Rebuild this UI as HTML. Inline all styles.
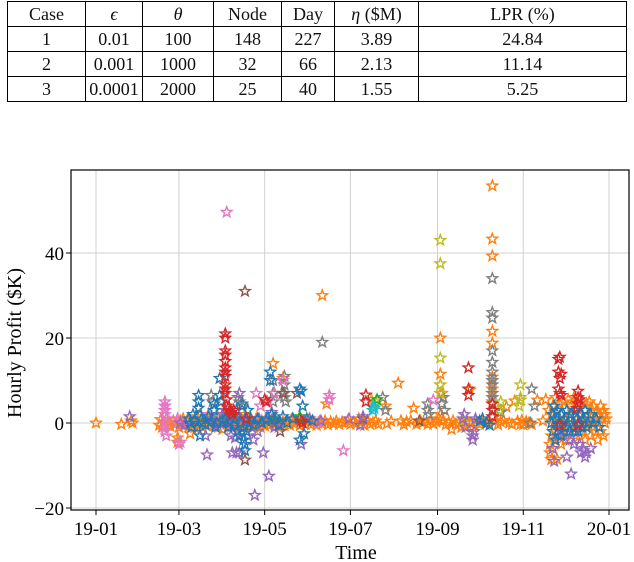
<!DOCTYPE html>
<html><head><meta charset="utf-8"><style>
body{margin:0;background:#fff;width:634px;height:562px;overflow:hidden;font-family:"Liberation Serif",serif}
table{position:absolute;left:7px;top:1px;border-collapse:collapse;font-size:18px;color:#111}
td{border:1.3px solid #000;text-align:center;padding:0;height:24px;line-height:24px}
svg{position:absolute;left:0;top:0}
</style></head><body>
<table>
<tr><td style="width:77px">Case</td><td style="width:56px"><i>ϵ</i></td><td style="width:70px"><i>θ</i></td><td style="width:67px">Node</td><td style="width:52px">Day</td><td style="width:83px"><i>η</i> ($M)</td><td style="width:207px">LPR (%)</td></tr>
<tr><td>1</td><td>0.01</td><td>100</td><td>148</td><td>227</td><td>3.89</td><td>24.84</td></tr>
<tr><td>2</td><td>0.001</td><td>1000</td><td>32</td><td>66</td><td>2.13</td><td>11.14</td></tr>
<tr><td>3</td><td>0.0001</td><td>2000</td><td>25</td><td>40</td><td>1.55</td><td>5.25</td></tr>
</table>
<svg id="chart" width="634" height="562"></svg>
<script>
const xTickLabels=["19-01","19-03","19-05","19-07","19-09","19-11","20-01"];
const xTickDays=[0,59,120,181,243,304,365];
const yTicks=[-20,0,20,40];
const orange=[[0,0],[18,-0.3],[25,0.5],[26,0],[45,-0.5],[46,0.8],[47,-1],[48,0.3],[50,1],[51,-0.5],[52,0.2],[53,-0.8],[55,0.5],[56,-0.3],[57,0],[58,-3.5],[58,-4.5],[59,-1],[60,0.5],[61,-0.5],[62,1],[64,-0.3],[65,0.8],[66,-0.8],[67,-2.5],[68,0],[70,-1],[71,0.5],[72,1.5],[73,-0.5],[74,2],[75,0],[76,-1],[78,0.5],[79,1],[80,-0.5],[81,0],[82,1.5],[84,-0.7],[85,0.3],[86,2],[87,-1],[88,0],[89,0.5],[90,-1.5],[91,0.8],[93,-0.3],[94,1],[95,-0.5],[96,0.2],[97,1.5],[98,-1],[99,0.3],[100,-0.5],[102,1],[103,0],[104,-1],[105,0.5],[106,2],[107,-0.5],[108,0.8],[110,-0.3],[111,0.5],[112,-1],[113,0],[114,1],[115,-0.5],[116,0.3],[117,-1],[118,0.5],[119,0],[120,-0.6],[122,0.4],[124,-0.5],[126,14],[125,0.7],[127,-0.3],[128,0.5],[130,-1],[131,0.2],[133,10.5],[133,0.3],[134,-0.5],[136,0.5],[138,-0.5],[139,0.8],[141,-0.2],[143,0.4],[145,-0.6],[147,0.2],[149,-0.3],[151,0.5],[153,-0.4],[155,0.2],[157,-0.5],[159,0.3],[161,30],[161,-0.2],[163,0.5],[164,4.5],[165,-0.4],[167,0.3],[169,-0.2],[171,0.4],[173,-0.3],[175,0.2],[177,0],[179,0.5],[181,-0.3],[183,0.2],[185,-0.2],[187,1],[189,0.3],[191,-0.5],[193,0.5],[195,-0.3],[197,0.1],[199,0.5],[201,-0.3],[206,4],[207,-0.2],[210,0.4],[215,9.4],[217,0.5],[219,-0.4],[221,0.3],[224,0.5],[226,3.5],[228,-0.3],[231,0.4],[233,0.2],[236,-0.3],[238,0.5],[240,-0.2],[242,0.3],[244,1],[245,20],[245,11.5],[245,9],[246,7],[245,2],[247,0.5],[249,-0.4],[251,0.2],[253,-1.5],[254,0.5],[256,-0.3],[258,0],[260,-1],[262,-0.5],[264,0.5],[266,7.8],[266,0],[268,-1],[270,0.5],[273,-0.3],[275,0.4],[277,-0.3],[279,0.2],[282,55.8],[282,43.3],[282,39.3],[282,21.6],[282,18.8],[282,10.8],[282,8],[282,5],[284,0.5],[286,-0.4],[288,0.3],[290,0.6],[292,3.8],[294,0],[296,-0.3],[298,5.2],[300,0.4],[302,-0.3],[303,0.6],[304,-0.4],[306,0.3],[308,0],[310,-0.3],[314,5.4],[318,0.5],[320,5.5],[322,3],[323,-5],[323,-7],[324,-8.6],[324,-3],[324,2],[325,4],[325,-6],[326,0],[326,-4],[327,-2],[327,6],[328,-8.5],[328,3],[329,-1],[329,1],[330,-3],[330,4.5],[331,2],[331,-5],[332,0],[333,-2],[333,5],[334,1],[334,-4],[335,3],[336,-1],[336,5.5],[337,2],[338,-3],[338,4],[339,0],[340,-2],[340,6],[341,3],[342,-1],[342,5],[343,1],[344,-3],[344,4],[345,2],[346,-2],[346,5],[347,0],[348,3],[348,-4],[349,4.5],[350,-1],[350,2],[351,5],[352,0],[352,-3],[353,3],[354,-1],[354,4],[355,1],[355,-2],[356,3],[357,0],[357,-4],[358,2],[359,-2],[359,4],[360,1],[361,-3],[361,3],[362,0],[362,2],[363,1]];
const gray=[[82,6.5],[83,5],[101,6],[102,5],[104,4],[126,10],[126,7],[126,5],[134,11],[134,9],[134,7],[134,6],[135,5],[161,19],[204,6],[206,3],[236,4.5],[236,3],[237,2],[246,4.5],[247,6],[248,3],[282,34],[282,26],[282,24.7],[282,17],[282,14.3],[282,12],[282,10],[282,9],[282,7],[282,6],[282,4.5],[283,3],[288,2.5],[310,8],[312,4],[309,0]];
const olive=[[245,43],[245,37.5],[245,15.3],[245,9],[245,7],[198,4.5],[199,5],[196,5.5],[288,5],[287,3],[302,9],[302,5.4],[302,6],[301,4],[261,0.5]];
const pink=[[49,5],[49,4],[49,3],[49,2],[50,1],[49,0],[49,-1],[49,-2],[50,-3],[58,1],[58,0],[59,-5],[60,-4.5],[63,0],[66,1],[80,2],[93,49.6],[95,0],[96,-1],[114,7],[117,4],[122,5],[127,7],[133,10],[158,0],[166,6.5],[166,5.5],[176,-6.5],[240,5.4]];
const brown=[[95,0],[106,31],[106,-8.7],[110,1],[127,0],[131,-2],[133,7],[143,7],[145,1],[190,1],[230,0.5]];
const green=[[93,2],[126,1],[145,1.5],[200,5.5]];
const cyan=[[197,3.8],[197,3],[198,3.5]];
const purple=[[24,1.5],[60,0],[63,-0.5],[70,0.5],[78,-3],[79,-7.5],[82,1],[85,-0.5],[88,0],[90,2],[92,3],[93,0],[94,-1],[95,1.5],[96,-3],[97,-7],[99,-3.5],[100,-7],[101,-2],[102,7],[102,-7],[103,1],[104,-2],[106,0.5],[108,-3],[110,0],[112,-4],[113,-17],[115,-2],[116,1],[118,0],[119,-7],[121,1],[123,-12.5],[125,2.5],[127,-1],[130,0],[140,1],[146,-5],[152,1],[160,0.5],[180,1],[188,-0.5],[190,1.5],[261,1],[262,2],[263,-1],[268,-3],[268,-4],[269,-2],[270,1],[325,-6],[326,-9],[329,-3],[331,-2],[335,-8],[337,-4],[338,-12],[340,-5],[341,-2],[344,-5],[345,-7],[347,-6.5],[348,-8],[349,-7],[352,-6]];
const blue=[[66,1],[67,0],[68,-1],[69,2],[70,0.5],[72,-1],[73,6.5],[73,5],[73,3.5],[74,-3],[75,1],[76,0],[78,-0.5],[80,1.5],[82,0.5],[84,4.5],[84,3],[85,-1],[86,0],[88,10.5],[88,6.5],[89,5],[90,0.5],[92,1],[94,-1],[95,0],[97,2],[98,-0.5],[99,1],[100,3],[101,-2],[102,-3],[103,0],[104,4.5],[105,-1],[105,-4],[106,-5],[106,-6.5],[107,-2],[108,3],[109,0],[110,1],[112,-0.5],[115,1],[118,0],[121,0.5],[124,12],[124,10],[125,2],[127,1],[130,-0.5],[133,1.5],[136,0],[140,1],[145,8],[146,7.5],[147,4],[145,-4],[148,-2.5],[150,1],[154,0.5],[273,0.5],[275,1],[278,0],[280,-0.5],[324,0],[325,2],[325,-2],[326,4],[327,-4],[327,1],[328,3],[329,-1],[330,0],[331,2],[331,-3],[333,1],[334,-1],[335,3],[336,0],[337,-2],[338,2],[339,0],[340,-1],[341,3],[342,1],[343,-2],[344,0],[345,2],[346,-1],[347,1],[348,3],[349,-1],[350,0],[352,2],[354,0],[356,1],[358,-1]];
const red=[[92,21],[92,20],[92,17],[92,16],[92,14.5],[92,13],[92,12],[92,11],[92,9],[92,8],[92,7],[93,5.5],[93,4],[94,3.5],[95,3],[96,2.5],[97,2],[98,3],[107,1],[120,5.5],[121,5],[146,0.5],[147,0],[192,6.6],[192,5],[265,13],[265,6.5],[265,8],[282,4.5],[282,3],[282,1.5],[329,15],[330,15.5],[329,12],[331,11.5],[330,10.5],[329,8],[330,7],[331,6.5],[330,-0.5],[343,7.5],[343,6],[343,4.5],[344,5.5],[342,3.5],[343,-0.5]];
const seriesNames=["orange","gray","olive","pink","brown","green","cyan","purple","blue","red"];
const seriesData=[orange,gray,olive,pink,brown,green,cyan,purple,blue,red];
const seriesColors=["#ff7f0e","#7f7f7f","#bcbd22","#e377c2","#8c564b","#2ca02c","#17becf","#9467bd","#1f77b4","#d62728"];

const NS="http://www.w3.org/2000/svg";
const svg=document.getElementById("chart");
const L=71,R=629,T=170,B=510;
const xs=d=>96+d*(609-96)/365;
const ys=v=>423-v*(423-338)/20;
function mk(tag,attrs,parent){const e=document.createElementNS(NS,tag);for(const k in attrs)e.setAttribute(k,attrs[k]);(parent||svg).appendChild(e);return e;}
xTickDays.forEach((d,i)=>{
  const g=mk("line",{x1:xs(d),x2:xs(d),y1:T,y2:B,stroke:"#d0d0d0","stroke-width":1});
  
  
  const t=mk("line",{x1:xs(d),x2:xs(d),y1:B,y2:B+5,stroke:"#000","stroke-width":1});
  
  
  const tx=mk("text",{x:xs(d),y:B+25,"text-anchor":"middle","font-size":"19","font-family":"Liberation Serif, serif"});
  tx.textContent=xTickLabels[i];
  
  
});
yTicks.forEach(v=>{
  const g=mk("line",{x1:L,x2:R,y1:ys(v),y2:ys(v),stroke:"#d0d0d0","stroke-width":1});
  
  
  const t=mk("line",{x1:L-5,x2:L,y1:ys(v),y2:ys(v),stroke:"#000","stroke-width":1});
  
  
  const tx=mk("text",{x:L-7,y:ys(v)+7,"text-anchor":"end","font-size":"19","font-family":"Liberation Serif, serif"});
  tx.textContent=v<0?"\u2212"+(-v):String(v);
  
  
});
function star(cx,cy,r){let p="";for(let i=0;i<10;i++){const a=-Math.PI/2+i*Math.PI/5;const rr=i%2?r*0.42:r;p+=(i?"L":"M")+(cx+rr*Math.cos(a)).toFixed(1)+","+(cy+rr*Math.sin(a)).toFixed(1);}return p+"Z";}
seriesData.forEach((data,si)=>{
  const g=mk("g",{});
  
  
  data.forEach(pt=>{
    const p=mk("path",{d:star(xs(pt[0]),ys(pt[1]),5.5),fill:"none",stroke:seriesColors[si],"stroke-width":1.4},g);
    
    
  });
});
const fr=mk("rect",{x:L,y:T,width:R-L,height:B-T,fill:"none",stroke:"#000","stroke-width":1.2});


const xl=mk("text",{x:356,y:559,"text-anchor":"middle","font-size":"20","font-family":"Liberation Serif, serif"});
xl.textContent="Time";


const yl=mk("text",{x:0,y:0,"text-anchor":"middle","font-size":"20","font-family":"Liberation Serif, serif",transform:"translate(21,343) rotate(-90)"});
yl.textContent="Hourly Profit ($K)";


</script>
</body></html>
